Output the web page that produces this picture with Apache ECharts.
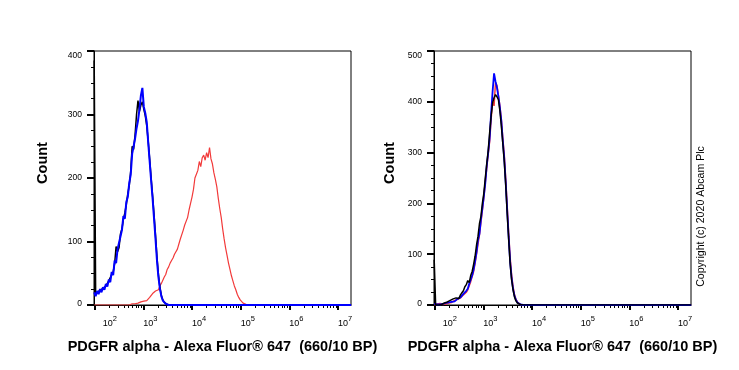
<!DOCTYPE html>
<html><head><meta charset="utf-8">
<script src="https://cdn.jsdelivr.net/npm/echarts@6/dist/echarts.min.js"></script>
<style>html,body{margin:0;padding:0;background:#fff}#c{width:739px;height:370px}</style>
</head><body><div id="c"></div>
<script>
// ---- tick labels / axes ----
const decadeTicks = [2, 3, 4, 5, 6, 7];          // log10 of 10^2 ... 10^7
const minorMultipliers = [2, 3, 4, 5, 6, 7, 8, 9];
const xTitle = 'PDGFR alpha - Alexa Fluor® 647  (660/10 BP)';
const yTitle = 'Count';
const copyrightText = 'Copyright (c) 2020 Abcam Plc';

// ---- histogram bins (log10 channel) ----
const leftBins = [
  1.99,2.02,2.05,2.08,2.11,2.14,2.17,2.20,2.23,2.26,
  2.29,2.32,2.35,2.38,2.41,2.44,2.47,2.50,2.53,2.56,
  2.59,2.62,2.65,2.68,2.71,2.74,2.77,2.80,2.83,2.86,
  2.89,2.92,2.95,2.98,3.01,3.04,3.07,3.10,3.13,3.16,
  3.19,3.22,3.25,3.28,3.31,3.34,3.37,3.40,3.43,3.46,
  3.49,3.52,3.55,3.58,3.61,3.64,3.67,3.70,3.73,3.76,
  3.79,3.82,3.85,3.88,3.91,3.94,3.97,4.00,4.03,4.06,
  4.09,4.12,4.15,4.18,4.21,4.24,4.27,4.30,4.33,4.36,
  4.39,4.42,4.45,4.48,4.51,4.54,4.57,4.60,4.63,4.66,
  4.69,4.72,4.75,4.78,4.81,4.84,4.87,4.90,4.93,4.96,
  4.99,5.02,5.05,5.08,5.11,5.14,5.17,5.20,
  7.27
];
const leftBlue = [
  20,14,22,17,25,20,28,24,33,29,
  40,36,52,47,70,66,88,85,108,118,
  140,136,162,170,192,205,238,250,262,278,
  290,308,330,342,312,302,288,256,226,196,
  168,136,104,70,44,26,14,7,4,2,
  1,0,0,0,0,0,0,0,0,0,
  0,0,0,0,0,0,0,0,0,0,
  0,0,0,0,0,0,0,0,0,0,
  0,0,0,0,0,0,0,0,0,0,
  0,0,0,0,0,0,0,0,0,0,
  0,0,0,0,0,0,0,0,
  0
];
const leftBlack = [
  385,16,20,18,23,22,26,27,30,32,
  38,40,48,52,65,92,84,90,112,120,
  135,145,158,175,188,210,250,245,268,300,
  322,305,315,320,308,298,282,258,230,200,
  172,142,110,76,48,28,15,8,4,2,
  1,0,0,0,0,0,0,0,0,0,
  0,0,0,0,0,0,0,0,0,0,
  0,0,0,0,0,0,0,0,0,0,
  0,0,0,0,0,0,0,0,0,0,
  0,0,0,0,0,0,0,0,0,0,
  0,0,0,0,0,0,0,0,
  0
];
const leftRed = [
  0,0,0,0,0,0,0,0,0,0,
  0,0,0,0,0,0,0,0,0,0,
  0,0,0,1,0,1,2,1,2,3,
  3,4,5,4,6,8,7,10,12,14,
  18,16,22,25,24,30,34,36,44,48,
  56,60,66,70,74,80,78,88,96,104,
  106,118,126,124,138,150,160,170,182,200,
  206,212,226,218,232,236,228,240,232,248,
  230,222,208,198,186,168,152,138,120,104,
  90,78,66,56,46,38,30,24,17,12,
  8,5,3,2,1,0,0,0,
  0
];

const rightBins = [
  1.99,2.02,2.05,2.08,2.11,2.14,2.17,2.20,2.23,2.26,
  2.29,2.32,2.35,2.38,2.41,2.44,2.47,2.50,2.53,2.56,
  2.59,2.62,2.65,2.68,2.71,2.74,2.77,2.80,2.83,2.86,
  2.89,2.92,2.95,2.98,3.01,3.04,3.07,3.10,3.13,3.16,
  3.19,3.22,3.25,3.28,3.31,3.34,3.37,3.40,3.43,3.46,
  3.49,3.52,3.55,3.58,3.61,3.64,3.67,3.70,3.73,3.76,
  3.79,3.82,3.85,3.88,3.91,3.94,
  7.27
];
const rightBlue = [
  2,0,1,2,1,3,2,2,4,3,
  5,4,6,8,7,10,12,11,15,18,
  22,20,28,32,42,50,58,70,86,104,
  128,140,168,190,214,240,275,300,330,378,
  420,456,440,428,410,388,362,322,288,240,
  186,134,86,54,32,18,10,5,2,1,
  0,0,0,0,0,0,
  0
];
const rightBlack = [
  89,0,1,0,2,1,3,4,5,6,
  7,9,8,12,10,14,16,13,20,24,
  28,36,40,48,44,58,66,80,96,118,
  135,160,174,200,220,250,278,304,340,372,
  398,408,414,410,404,382,352,318,282,236,
  180,130,82,50,30,16,8,4,2,1,
  0,0,0,0,0,0,
  0
];
const rightRed = [
  0,1,2,0,3,2,1,3,2,4,
  4,6,5,7,9,8,11,10,14,16,
  20,18,25,30,38,46,56,66,82,100,
  120,138,162,186,212,242,270,298,322,366,
  400,392,438,432,412,392,365,328,295,248,
  195,142,94,60,36,20,11,6,3,1,
  0,0,0,0,0,0,
  0
];

const X_MIN = 1.986, X_MAX = 7.267;
const FONT = "'Liberation Sans', Arial, Helvetica, sans-serif";

const minorTicks = [];
decadeTicks.forEach(d => minorMultipliers.forEach(m => {
  const v = d + Math.log10(m);
  if (v < X_MAX) minorTicks.push(v);
}));

function pairs(bins, counts) { return bins.map((b, i) => [b, counts[i]]); }

function majorX(g) {
  return {
    type: 'value', gridIndex: g, min: X_MIN, max: X_MAX, position: 'bottom',
    name: xTitle, nameLocation: 'middle', nameGap: 34,
    nameTextStyle: { fontFamily: FONT, fontWeight: 'bold', fontSize: 14.5, color: '#000' },
    axisLine: { show: true, onZero: false, lineStyle: { color: '#000', width: 1 } },
    axisTick: { show: true, length: 5, customValues: decadeTicks, lineStyle: { color: '#000', width: 2 } },
    axisLabel: {
      show: true, customValues: decadeTicks, margin: 10, align: 'left',
      color: '#000', fontFamily: FONT,
      formatter: v => (Math.round(v) === 2 ? '{c|10}' : '{b|10}') + '{s|' + Math.round(v) + '}',
      rich: {
        b: { fontSize: 9, fontFamily: FONT, color: '#000' },
        c: { fontSize: 9, fontFamily: FONT, color: '#000', padding: [0, 0, 0, 8] },
        s: { fontSize: 7.5, fontFamily: FONT, color: '#000', padding: [0, 0, 9, 0] }
      }
    },
    splitLine: { show: false }, minorTick: { show: false }
  };
}
function minorX(g) {
  return {
    type: 'value', gridIndex: g, min: X_MIN, max: X_MAX, position: 'bottom',
    axisLine: { show: false, onZero: false },
    axisTick: { show: true, length: 3, customValues: minorTicks, lineStyle: { color: '#000', width: 1 } },
    axisLabel: { show: false }, splitLine: { show: false }
  };
}
function yAx(g, max) {
  return {
    type: 'value', gridIndex: g, min: 0, max: max, interval: 100,
    axisLine: { show: true, lineStyle: { color: '#000', width: 1 } },
    axisTick: { show: true, length: 7, lineStyle: { color: '#000', width: 2 } },
    minorTick: { show: true, splitNumber: 4, length: 3, lineStyle: { color: '#000', width: 1 } },
    axisLabel: {
      fontSize: 8.5, color: '#000', margin: 12, fontFamily: FONT,
      formatter: v => (v === max ? '{t|' + v + '}' : (v === 0 ? '{z|' + v + '}' : '{n|' + v + '}')),
      rich: {
        n: { fontSize: 8.5, fontFamily: FONT, color: '#000' },
        t: { fontSize: 8.5, fontFamily: FONT, color: '#000', padding: [9, 0, 0, 0] },
        z: { fontSize: 8.5, fontFamily: FONT, color: '#000', padding: [0, 0, 3, 0] }
      }
    },
    splitLine: { show: false }
  };
}
function line(name, xi, yi, bins, counts, color, width) {
  return {
    name, type: 'line', xAxisIndex: xi, yAxisIndex: yi, data: pairs(bins, counts),
    showSymbol: false, symbol: 'none', smooth: false, silent: true,
    lineStyle: { color, width }, itemStyle: { color }
  };
}

const chart = echarts.init(document.getElementById('c'), null, { renderer: 'canvas' });
chart.setOption({
  animation: false,
  backgroundColor: '#fff',
  grid: [
    { left: 94, top: 51, width: 257, height: 254, show: true, borderColor: '#000', borderWidth: 1, backgroundColor: '#fff', containLabel: false, outerBoundsMode: 'none' },
    { left: 434, top: 51, width: 257, height: 254, show: true, borderColor: '#000', borderWidth: 1, backgroundColor: '#fff', containLabel: false, outerBoundsMode: 'none' }
  ],
  xAxis: [majorX(0), minorX(0), majorX(1), minorX(1)],
  yAxis: [yAx(0, 400), yAx(1, 500)],
  series: [
    line('Red L', 0, 0, leftBins, leftRed, '#f23a3a', 1.2),
    line('Black L', 0, 0, leftBins, leftBlack, '#000000', 1.5),
    line('Blue L', 0, 0, leftBins, leftBlue, '#0000ff', 2),
    line('Red R', 2, 1, rightBins, rightRed, '#f23a3a', 1.5),
    line('Blue R', 2, 1, rightBins, rightBlue, '#0000ff', 1.8),
    line('Black R', 2, 1, rightBins, rightBlack, '#000000', 1.5)
  ],
  graphic: [
    { type: 'text', x: 43, y: 163, rotation: Math.PI / 2,
      style: { text: yTitle, fontFamily: FONT, fontWeight: 'bold', fontSize: 14.5, fill: '#000', align: 'center', verticalAlign: 'middle' } },
    { type: 'text', x: 390, y: 163, rotation: Math.PI / 2,
      style: { text: yTitle, fontFamily: FONT, fontWeight: 'bold', fontSize: 14.5, fill: '#000', align: 'center', verticalAlign: 'middle' } },
    { type: 'text', x: 701, y: 216.5, rotation: Math.PI / 2,
      style: { text: copyrightText, fontFamily: FONT, fontSize: 10.6, fill: '#000', align: 'center', verticalAlign: 'middle' } }
  ]
});
</script>
</body></html>
